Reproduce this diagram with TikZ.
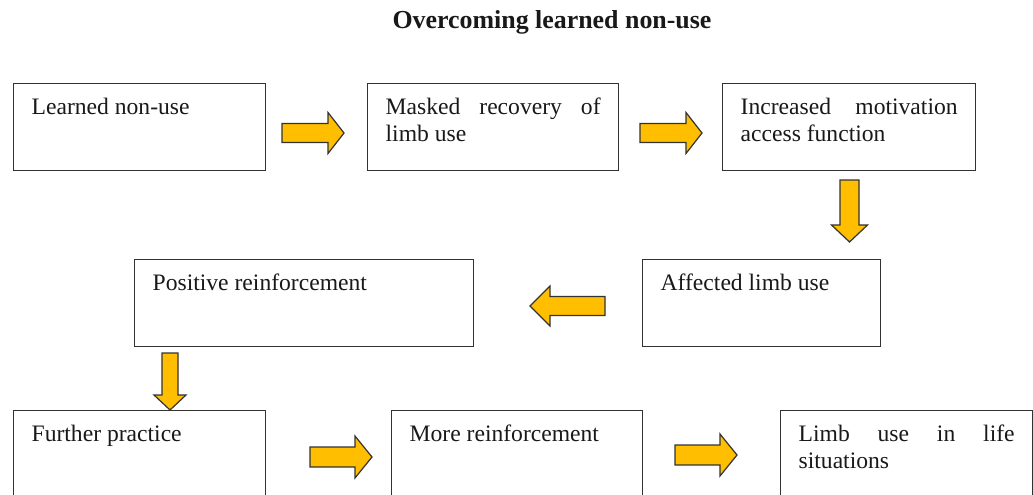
\documentclass[tikz,border=0pt]{standalone}
\usepackage{fontspec}
\setmainfont{Liberation Serif}
\definecolor{arrowfill}{RGB}{255,190,0}
\definecolor{edgegray}{RGB}{50,50,50}
\newcommand\boxfont{\fontsize{23.6}{27}\selectfont}
\newcommand\blockarrowat[7]{%
  \begin{scope}[shift={(#1,#2)},rotate=#3]
    \draw[blockarrow] (0,-#5/2) -- (#4-#7,-#5/2) -- (#4-#7,-#6/2) -- (#4,0)
      -- (#4-#7,#6/2) -- (#4-#7,#5/2) -- (0,#5/2) -- cycle;
  \end{scope}}
\begin{document}
\tolerance=10000
\hyphenpenalty=10000
\begin{tikzpicture}[x=1pt,y=-1pt,
  box/.style={draw=edgegray, line width=1.3pt, fill=white, anchor=north west,
    inner xsep=18pt, inner ysep=0pt, text height=31pt, text depth=56pt,
    align=justify, text=black!90, font=\boxfont},
  blockarrow/.style={draw=black!80, line width=1.2pt, fill=arrowfill, line join=miter}]
\path[use as bounding box] (0,0) rectangle (1033,495);
\clip (0,0) rectangle (1033,495);

\node[font=\fontsize{25.9}{30}\selectfont\bfseries, anchor=base, text=black!90] (title) at (552,29) {Overcoming learned non-use};

% row 1
\node[box, text width=216pt] (learned) at (13,83) {Learned non-use};
\node[box, text width=215pt] (masked) at (367,83) {Masked recovery of limb use};
\node[box, text width=217pt] (motiv) at (722,83) {Increased motivation access function};
% row 2
\node[box, text width=303pt] (positive) at (134,259) {Positive reinforcement};
\node[box, text width=202pt] (affected) at (642,259) {Affected limb use};
% row 3
\node[box, text width=216pt] (further) at (13,410) {Further practice};
\node[box, text width=215pt] (more) at (391,410) {More reinforcement};
\node[box, text width=216pt] (life) at (780,410) {Limb use in life situations};

% block arrows
\blockarrowat{282}{133}{0}{62}{19}{41}{16}
\blockarrowat{640}{133}{0}{62}{19}{41}{16}
\blockarrowat{849.5}{180}{-90}{62}{19}{36}{17}
\blockarrowat{605}{306}{180}{75}{19}{40}{20}
\blockarrowat{170}{353}{-90}{57}{16}{32}{15}
\blockarrowat{310}{457}{0}{62}{20}{42}{17}
\blockarrowat{675}{455}{0}{62}{20}{42}{17}
\end{tikzpicture}
\end{document}
